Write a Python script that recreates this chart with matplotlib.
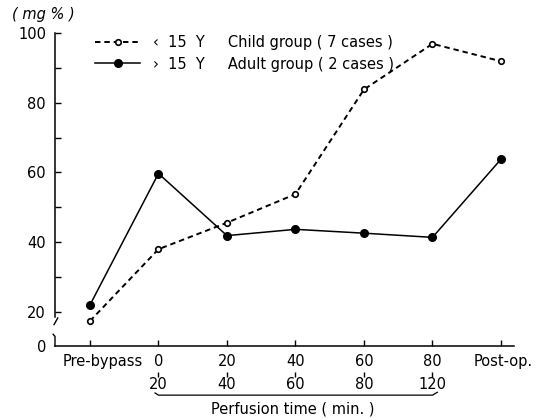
import matplotlib
matplotlib.use("Agg")
import matplotlib.pyplot as plt
from matplotlib.transforms import ScaledTranslation, blended_transform_factory

# ---- data ----
categories = ["Pre-bypass", "0\n20", "20\n40", "40\n60", "60\n80", "80\n120", "Post-op."]
child_vals = [17.4, 38.0, 45.6, 53.8, 83.8, 96.9, 91.9]
adult_vals = [22.0, 59.7, 41.9, 43.7, 42.6, 41.4, 63.8]
child_label = "\u2039  15  Y     Child group ( 7 cases )"
adult_label = "\u203a  15  Y     Adult group ( 2 cases )"
y_major = [20, 40, 60, 80, 100]
y_minor = [30, 50, 70, 90]

plt.rcParams['font.family'] = ['DejaVu Sans']
W, H = 550, 418
fig = plt.figure(figsize=(5.5, 4.18), dpi=100)
ax = fig.add_axes([55 / W, 72 / H, 459 / W, 313 / H])

x = list(range(len(categories)))
ybot = 10.25
ax.set_xlim(-0.51, 6.19)
ax.set_ylim(ybot, 100)

ax.plot(x, child_vals, color='black', lw=1.4, ls=(0, (2.8, 2.0)),
        marker='o', ms=4, mfc='white', mec='black', mew=1.2,
        label=child_label, clip_on=False)
ax.plot(x, adult_vals, color='black', lw=1.1, ls='-',
        marker='o', ms=5.5, mfc='black', mec='black',
        label=adult_label, clip_on=False)

# spines
for s in ['top', 'right']:
    ax.spines[s].set_visible(False)
ax.spines['left'].set_bounds(18.6, 100)
ax.spines['left'].set_linewidth(1.1)
ax.spines['bottom'].set_linewidth(1.1)

# y ticks
ax.set_yticks([ybot] + y_major)
ax.set_yticklabels(['0'] + [str(v) for v in y_major])
ax.set_yticks(y_minor, minor=True)
ax.tick_params(axis='y', which='both', direction='in', length=4, width=1.0,
               labelsize=10.5, pad=6.5)
ax.yaxis.get_major_ticks()[0].tick1line.set_visible(False)

# x ticks
ax.set_xticks(x)
ax.set_xticklabels(categories, linespacing=1.72)
ax.tick_params(axis='x', direction='in', length=4, width=1.0,
               labelsize=10.5, pad=5.5)
lbl0 = ax.get_xticklabels()[0]
lbl0.set_transform(lbl0.get_transform() + ScaledTranslation(0.13, 0, fig.dpi_scale_trans))
lblN = ax.get_xticklabels()[-1]
lblN.set_transform(lblN.get_transform() + ScaledTranslation(0.02, 0, fig.dpi_scale_trans))

bt = blended_transform_factory(ax.transData, ax.transAxes)
# small marks between the two label rows
ax.vlines(x[1:-1], -0.083, -0.098, transform=bt, color='black', lw=1.0, clip_on=False)
# bracket under the perfusion-time labels
ax.plot([x[1] - 0.05, x[1], x[-2], x[-2] + 0.07], [-0.150, -0.157, -0.157, -0.148],
        transform=bt, color='black', lw=0.9, clip_on=False)
ax.set_xlabel("Perfusion time ( min. )", fontsize=10.5)
ax.xaxis.set_label_coords(0.518, -0.176)

# axis break marks
bt2 = blended_transform_factory(ax.transAxes, ax.transData)
ax.plot([0.006, -0.002], [18.3, 16.4], transform=bt2, color='black', lw=1.0, clip_on=False)
ax.plot([-0.004, 0.0, 0.0], [13.6, 13.0, ybot], transform=bt2, color='black', lw=1.0, clip_on=False)

# legend
leg = ax.legend(loc='upper left', bbox_to_anchor=(95 / W, 1 - 35 / H),
                bbox_transform=fig.transFigure, frameon=False, fontsize=10.5,
                handlelength=3.1, handletextpad=0.85, labelspacing=0.45,
                numpoints=1, borderpad=0, borderaxespad=0)

fig.text(12 / W, 1 - 15 / H, "( mg % )", fontsize=10.5, style='italic', va='center')

fig.savefig("out.png", dpi=100)
